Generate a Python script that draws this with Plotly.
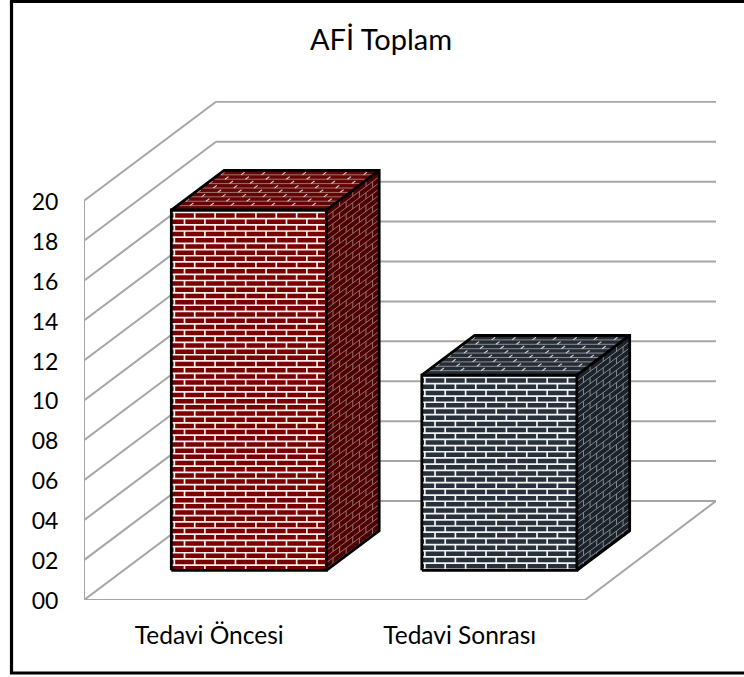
import plotly.graph_objects as go

# Data
categories = ["Tedavi Öncesi", "Tedavi Sonrası"]
values = [18.05, 9.78]
tick_values = list(range(0, 21, 2))
tick_labels = [f"{v:02d}" for v in tick_values]
title_text = "AFİ Toplam"

# Oblique projection of the 3D box, in axis units
X_MAX, Y_MAX = 2.523, 25.0
DX, DY = 0.527, 4.96      # full depth of the floor
D0, DEPTH = 0.30, 0.40    # bar front position and bar depth (fraction of floor)
BAR_W = 0.619
ROW = 0.31                # brick row height
PITCH = 0.0814            # brick length

FONT = "Lato"
GRID = "#a6a6a6"
PALETTE = [
    dict(front="#7a0000", front_m="#fbeeee", side="#4e0000", side_m="#9c7a7a", top="#620505", top_m="#b88c8c"),
    dict(front="#27303b", front_m="#f4f4f4", side="#1c222a", side_m="#8f9398", top="#262c35", top_m="#a4a8ad"),
]

fig = go.Figure()

# Front faces as real bars
centers = [i + 0.5 + D0 * DX for i in range(len(values))]
fig.add_trace(go.Bar(
    x=centers, y=values, base=[D0 * DY] * len(values), width=[BAR_W] * len(values),
    marker=dict(color=[p["front"] for p in PALETTE], line=dict(width=0)),
    hoverinfo="skip", showlegend=False,
))


def lines(xs, ys, color, width):
    fig.add_trace(go.Scatter(x=xs, y=ys, mode="lines", line=dict(color=color, width=width),
                             hoverinfo="skip", showlegend=False))


def poly(xs, ys, color):
    fig.add_trace(go.Scatter(x=xs, y=ys, mode="lines", fill="toself", fillcolor=color,
                             line=dict(width=0), hoverinfo="skip", showlegend=False))


for c, v, p in zip(centers, values, PALETTE):
    x0, x1 = c - BAR_W / 2, c + BAR_W / 2
    y0, y1 = D0 * DY, D0 * DY + v
    ddx, ddy = DEPTH * DX, DEPTH * DY

    # side and top fills
    poly([x1, x1 + ddx, x1 + ddx, x1, x1], [y0, y0 + ddy, y1 + ddy, y1, y0], p["side"])
    poly([x0, x1, x1 + ddx, x0 + ddx, x0], [y1, y1, y1 + ddy, y1 + ddy, y1], p["top"])

    # front mortar
    hx, hy, jx, jy = [], [], [], []
    n = int(v / ROW) + 1
    for i in range(n):
        yt = y1 - 0.12 - i * ROW
        yb = max(yt - ROW, y0)
        if yt > y0:
            hx += [x0, x1, None]
            hy += [yt, yt, None]
        start = x0 + 0.012 + (0 if i % 2 == 0 else PITCH / 2)
        xj = start
        while xj < x1 and yt > y0:
            jx += [xj, xj, None]
            jy += [yt, yb, None]
            xj += PITCH
    lines(hx, hy, p["front_m"], 1.7)
    lines(jx, jy, p["front_m"], 1.7)

    # side mortar
    hx, hy, jx, jy = [], [], [], []
    cols = 4
    for i in range(n + 2):
        h = y1 - i * ROW
        if h < y0:
            break
        hx += [x1, x1 + ddx, None]
        hy += [h, h + ddy, None]
        for k in range(cols + 1):
            t = (k + (0.5 if i % 2 else 0)) / cols
            if t <= 1:
                jx += [x1 + t * ddx, x1 + t * ddx, None]
                jy += [h + t * ddy, max(h + t * ddy - ROW, y0 + t * ddy), None]
    lines(hx, hy, p["side_m"], 0.9)
    lines(jx, jy, p["side_m"], 0.9)

    # top mortar
    hx, hy, jx, jy = [], [], [], []
    rows = 9
    for i in range(1, rows):
        t = i / rows
        hx += [x0 + t * ddx, x1 + t * ddx, None]
        hy += [y1 + t * ddy, y1 + t * ddy, None]
        xj = 0.01 + (PITCH / 2 if i % 2 else 0)
        while xj < BAR_W:
            jx += [x0 + xj + t * ddx, x0 + xj + (t + 0.6 / rows) * ddx, None]
            jy += [y1 + t * ddy, y1 + (t + 0.6 / rows) * ddy, None]
            xj += PITCH
    lines(hx, hy, p["top_m"], 0.8)
    lines(jx, jy, "#d8d2d2", 1.1)

    # outlines
    lines([x0, x1, x1, x0, x0, None, x1, x1 + ddx, x1 + ddx, x0 + ddx, x0, None, x1 + ddx, x1],
          [y0, y0, y1, y1, y0, None, y0, y0 + ddy, y1 + ddy, y1 + ddy, y1, None, y1 + ddy, y1],
          "#000000", 2.8)

# Walls and floor, below the bars
shapes = []


def seg(xa, ya, xb, yb):
    shapes.append(dict(type="line", xref="x", yref="y", x0=xa, y0=ya, x1=xb, y1=yb, layer="below",
                       line=dict(color=GRID, width=2)))


for t in tick_values:
    seg(0, t, DX, t + DY)
    seg(DX, t + DY, X_MAX, t + DY)
seg(0, 0, 0, tick_values[-1])
seg(0, 0, len(categories), 0)
seg(len(categories), 0, X_MAX, DY)

# Outer frame: the right edge lies outside the picture
shapes.append(dict(type="rect", xref="paper", yref="paper", x0=-0.1147, x1=1.06, y0=-0.1463, y1=1.1994,
                   layer="below", line=dict(color="#000000", width=3.2), fillcolor="rgba(0,0,0,0)"))

fig.update_layout(
    width=744, height=677,
    margin=dict(l=84, r=28, t=101, b=77),
    paper_bgcolor="white", plot_bgcolor="white",
    showlegend=False, barmode="overlay",
    shapes=shapes,
    font=dict(family=FONT, color="#000000"),
    title=dict(text=title_text, x=381 / 744, xanchor="center", y=1 - 40 / 677, yanchor="middle",
               font=dict(family=FONT, size=29, color="#000000")),
    xaxis=dict(range=[0, X_MAX], tickmode="array", tickvals=[i + 0.5 for i in range(len(categories))],
               ticktext=categories, ticks="outside", ticklen=14, tickcolor="rgba(0,0,0,0)",
               showgrid=False, zeroline=False, showline=False, tickfont=dict(family=FONT, size=24.5)),
    yaxis=dict(range=[0, Y_MAX], tickmode="array", tickvals=tick_values, ticktext=tick_labels,
               ticks="outside", ticklen=20, tickcolor="rgba(0,0,0,0)", ticklabelshift=1,
               showgrid=False, zeroline=False, showline=False, tickfont=dict(family=FONT, size=23)),
)

fig.write_html("out.html", config={"displayModeBar": False},
               post_script="document.body.style.margin='0';document.documentElement.style.overflow='hidden';")
